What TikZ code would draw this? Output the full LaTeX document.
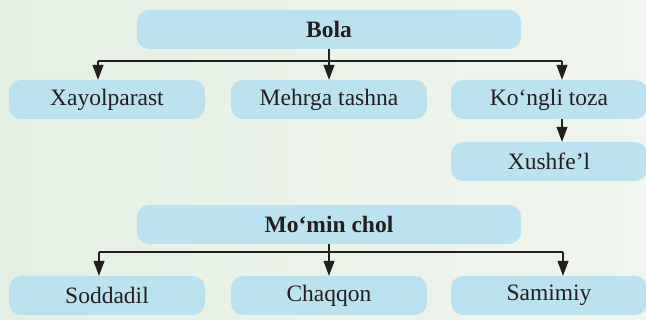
\documentclass[tikz,border=0pt]{standalone}
\usepackage{fontspec}
\setmainfont{Liberation Serif}
\usetikzlibrary{arrows.meta}
\definecolor{boxfill}{RGB}{187,227,239}
\definecolor{ink}{RGB}{35,31,32}
\definecolor{bgL}{RGB}{229,240,228}
\definecolor{bgR}{RGB}{240,245,238}
\begin{document}
\begin{tikzpicture}[x=1pt,y=-1pt,
  box/.style={rectangle,rounded corners=12pt,fill=boxfill,draw=none,
    minimum height=39pt,inner sep=0pt,text=ink,
    font=\fontsize{23.5}{28}\selectfont},
  wbox/.style={box,minimum width=384pt,font=\fontsize{23.5}{28}\selectfont\bfseries},
  sbox/.style={box,minimum width=196pt},
  conn/.style={draw=ink,line width=1.1pt},
  arr/.style={conn,-{Triangle[length=15pt,width=11pt]}}]
\useasboundingbox (0,0) rectangle (646,320);
\shade[left color=bgL,right color=bgR] (0,0) rectangle (646,320);
% top tree
\node[wbox] (bola) at (329,29.5) {Bola};
\node[sbox] (xayol) at (107,99.5) {Xayolparast};
\node[sbox] (mehr) at (329,99.5) {Mehrga tashna};
\node[sbox] (kongli) at (549,99.5) {Ko‘ngli toza};
\node[sbox] (xush) at (549,161.5) {Xushfe’l};
\coordinate (tL) at (98,61);
\coordinate (tM) at (329,61);
\coordinate (tR) at (562,61);
\draw[conn] (bola.south -| tM) -- (tM);
\draw[conn] (tL) -- (tR);
\draw[arr] (tL) -- (xayol.north -| tL);
\draw[arr] (tM) -- (mehr.north);
\draw[arr] (tR) -- (kongli.north -| tR);
\draw[arr] (kongli.south -| tR) -- (xush.north -| tR);
% bottom tree
\node[wbox] (momin) at (329,224.5) {Mo‘min chol};
\node[sbox] (sodda) at (107,295.5) {Soddadil};
\node[sbox] (chaq) at (329,295.5) {Chaqqon};
\node[sbox] (sami) at (549,295.5) {Samimiy};
\coordinate (bL) at (99,252);
\coordinate (bM) at (329,252);
\coordinate (bR) at (563,252);
\draw[conn] (momin.south -| bM) -- (bM);
\draw[conn] (bL) -- (bR);
\draw[arr] (bL) -- (sodda.north -| bL);
\draw[arr] (bM) -- (chaq.north);
\draw[arr] (bR) -- (sami.north -| bR);
\end{tikzpicture}
\end{document}
